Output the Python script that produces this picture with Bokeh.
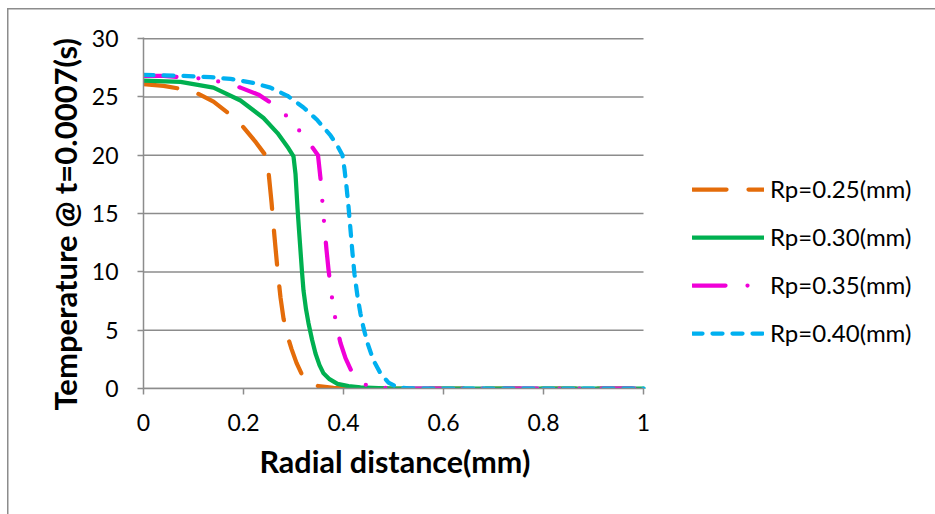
from bokeh.plotting import figure
from bokeh.models import Legend, LegendItem, FixedTicker, Range1d, Title
from bokeh.embed import file_html
from bokeh.resources import INLINE

# ---- data ----
x_025 = [0, 0.04, 0.074, 0.108, 0.14, 0.17, 0.2, 0.225, 0.244, 0.25, 0.256, 0.262, 0.268,
         0.274, 0.28, 0.288, 0.296, 0.306, 0.32, 0.335, 0.35, 0.38, 0.42, 0.5, 0.6, 0.7, 0.8, 0.9, 1.0]
y_025 = [26.1, 25.95, 25.7, 25.3, 24.6, 23.6, 22.4, 21.1, 20.0, 18.6, 16.0, 13.0, 10.2,
         7.8, 6.0, 4.5, 3.4, 2.2, 0.9, 0.4, 0.2, 0.05, 0.01, 0, 0, 0, 0, 0, 0]

x_030 = [0, 0.074, 0.14, 0.194, 0.24, 0.268, 0.29, 0.3, 0.304, 0.308, 0.311, 0.314, 0.317,
         0.32, 0.325, 0.33, 0.337, 0.344, 0.352, 0.36, 0.372, 0.388, 0.41, 0.434, 0.47, 0.5,
         0.6, 0.7, 0.8, 0.9, 1.0]
y_030 = [26.4, 26.3, 25.8, 24.7, 23.2, 21.9, 20.6, 19.9, 18.4, 15.5, 13.6, 11.8, 10.0,
         8.4, 6.8, 5.6, 4.2, 3.0, 2.0, 1.3, 0.8, 0.4, 0.2, 0.1, 0.03, 0,
         0, 0, 0, 0, 0]

x_035 = [0, 0.04, 0.11, 0.154, 0.194, 0.23, 0.258, 0.288, 0.316, 0.334, 0.349, 0.354, 0.358,
         0.362, 0.366, 0.37, 0.375, 0.38, 0.386, 0.394, 0.404, 0.418, 0.432, 0.45, 0.48, 0.52,
         0.6, 0.7, 0.8, 0.9, 1.0]
y_035 = [26.8, 26.8, 26.6, 26.3, 25.8, 25.2, 24.4, 23.3, 21.9, 20.9, 20.0, 18.0, 15.9,
         13.8, 11.9, 10.2, 8.4, 6.9, 5.4, 3.9, 2.6, 1.3, 0.6, 0.2, 0.05, 0,
         0, 0, 0, 0, 0]

x_040 = [0, 0.08, 0.134, 0.174, 0.22, 0.254, 0.288, 0.32, 0.348, 0.374, 0.388, 0.398, 0.402,
         0.406, 0.41, 0.414, 0.418, 0.422, 0.428, 0.434, 0.44, 0.448, 0.46, 0.474, 0.49, 0.508,
         0.53, 0.55, 0.6, 0.7, 0.8, 0.9, 1.0]
y_040 = [26.9, 26.8, 26.7, 26.55, 26.2, 25.8, 25.1, 24.1, 23.0, 21.7, 20.8, 20.0, 18.8,
         17.3, 15.6, 13.6, 11.6, 9.8, 7.9, 6.4, 5.2, 3.9, 2.4, 1.3, 0.5, 0.1,
         0.02, 0, 0, 0, 0, 0, 0]

series_names = ["Rp=0.25(mm)", "Rp=0.30(mm)", "Rp=0.35(mm)", "Rp=0.40(mm)"]
x_ticks = [0, 0.2, 0.4, 0.6, 0.8, 1.0]
x_tick_labels = ["0", "0.2", "0.4", "0.6", "0.8", "1"]
y_ticks = [0, 5, 10, 15, 20, 25, 30]
x_title = "Radial distance(mm)"
y_title = "Temperature @ t=0.0007(s)"

colors = ["#E46C0A", "#00B050", "#F000D8", "#00B0F0"]
dashes = ["34 22", "solid", "33 22 0 20 0 22", "10 10"]

GRAY = "#8c8c8c"
FONT = "Lato"

X_MIN, X_MAX = x_ticks[0], x_ticks[-1]

# the frame runs to the right edge so that the legend (outside the axes) is not clipped;
# the axis and gridlines are bounded to 0..1
p = figure(width=935, height=514, output_backend="svg", toolbar_location=None,
           x_range=Range1d(0, 1.584), y_range=Range1d(0, 30.1),
           min_border_left=143, min_border_right=0, min_border_top=37,
           min_border_bottom=126, outline_line_color=None,
           background_fill_color=None, border_fill_color=None)

# thin gray frame of the chart area (left and top edges visible)
p.styles = {
    "background": "linear-gradient(#8c8c8c,#8c8c8c) 7px 8px / 1.5px 100% no-repeat, "
                  "linear-gradient(#8c8c8c,#8c8c8c) 7px 8px / 100% 1.5px no-repeat, white"
}

# horizontal gridlines, limited to the x extent of the axis
p.xgrid.grid_line_color = None
p.ygrid.grid_line_color = None
p.segment(x0=[X_MIN] * len(y_ticks), x1=[X_MAX] * len(y_ticks), y0=y_ticks, y1=y_ticks,
          line_color=GRAY, line_width=1.5)

# axes
p.xaxis.ticker = FixedTicker(ticks=x_ticks)
p.xaxis.bounds = (X_MIN, X_MAX)
p.xaxis.major_label_overrides = dict(zip(x_ticks, x_tick_labels))
p.yaxis.ticker = FixedTicker(ticks=y_ticks)
for ax in (p.xaxis[0], p.yaxis[0]):
    ax.axis_line_color = GRAY
    ax.axis_line_width = 1.5
    ax.major_tick_line_color = GRAY
    ax.major_tick_line_width = 1.5
    ax.major_tick_in = 0
    ax.major_tick_out = 6
    ax.minor_tick_line_color = None
    ax.major_label_text_font = FONT
    ax.major_label_text_font_size = "23px"
    ax.major_label_text_color = "black"
p.xaxis.major_label_standoff = 19
p.yaxis.major_label_standoff = 19

# axis titles (as panel titles so they can be centred on the 0..1 axis)
xt = Title(text=x_title, align="left", offset=116, text_font=FONT,
           text_font_size="30.5px", text_font_style="bold", text_color="black",
           standoff=14)
p.add_layout(xt, "below")
yt = Title(text=y_title, align="left", offset=-22, text_font=FONT,
           text_font_size="31px", text_font_style="bold", text_color="black",
           standoff=10)
p.add_layout(yt, "left")

xs = [x_025, x_030, x_035, x_040]
ys = [y_025, y_030, y_035, y_040]
items = []
for xv, yv, c, d, name in zip(xs, ys, colors, dashes, series_names):
    r = p.line(xv, yv, line_color=c, line_width=4.25, line_dash=d,
               line_cap="round", line_join="round")
    items.append(LegendItem(label=name, renderers=[r]))

legend = Legend(items=items, location=(549, 41), glyph_width=72, glyph_height=24,
                label_height=24, spacing=19, label_standoff=6, padding=0, margin=0,
                border_line_color=None, background_fill_alpha=0,
                label_text_font=FONT, label_text_font_size="24px",
                label_text_color="black")
p.add_layout(legend)

open("out.html", "w").write(file_html(p, INLINE))
